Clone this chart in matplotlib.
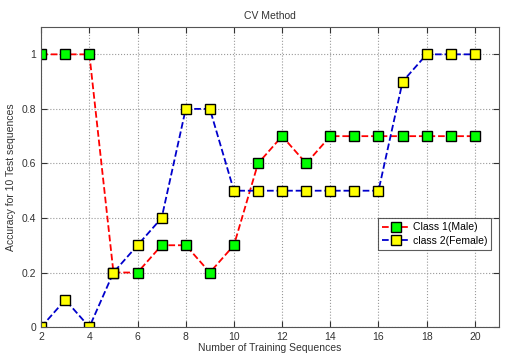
import matplotlib
matplotlib.use("Agg")
import matplotlib.pyplot as plt

# data
train_seq = list(range(2, 21))
class1_male = [1, 1, 1, 0.2, 0.2, 0.3, 0.3, 0.2, 0.3, 0.6, 0.7, 0.6, 0.7, 0.7, 0.7, 0.7, 0.7, 0.7, 0.7]
class2_female = [0, 0.1, 0, 0.2, 0.3, 0.4, 0.8, 0.8, 0.5, 0.5, 0.5, 0.5, 0.5, 0.5, 0.5, 0.9, 1, 1, 1]

plt.rcParams['font.family'] = ['Liberation Sans', 'DejaVu Sans']
plt.rcParams['font.size'] = 7.5

fig = plt.figure(figsize=(5.28, 3.61), dpi=100)
ax = fig.add_axes([0.078, 0.094, 0.867, 0.831])

ax.plot(train_seq, class1_male, 'r--', marker='s', markerfacecolor='#00ff00',
        markeredgecolor='black', markersize=6.5, linewidth=1.3, label='Class 1(Male)')
ax.plot(train_seq, class2_female, '--', color='#0000cc', marker='s', markerfacecolor='#ffff00',
        markeredgecolor='black', markersize=6.5, linewidth=1.3, label='class 2(Female)')

ax.set_xlim(2, 21)
ax.set_ylim(0, 1.1)
ax.set_xticks(range(2, 21, 2))
ax.set_yticks([0, 0.2, 0.4, 0.6, 0.8, 1])
ax.set_yticklabels(['0', '0.2', '0.4', '0.6', '0.8', '1'])
ax.grid(True, linestyle=':', color='#999999', linewidth=0.8)
ax.tick_params(direction='in', top=True, right=True, length=4, colors='#333333', labelcolor='#333333')
for s in ax.spines.values():
    s.set_color('#555555')

ax.set_title('CV Method', fontsize=7.5, color='#333333')
ax.set_xlabel('Number of Training Sequences', fontsize=7.5, color='#333333', labelpad=1)
ax.set_ylabel('Accuracy for 10 Test sequences', fontsize=7.5, color='#333333')

leg = ax.legend(loc='upper left', bbox_to_anchor=(0.725, 0.38), fancybox=False,
                edgecolor='#333333', fontsize=7.5, handlelength=2.6, borderpad=0.4,
                labelspacing=0.3, handletextpad=0.3)
leg.get_frame().set_linewidth(0.8)

fig.savefig('out.png', dpi=100)
